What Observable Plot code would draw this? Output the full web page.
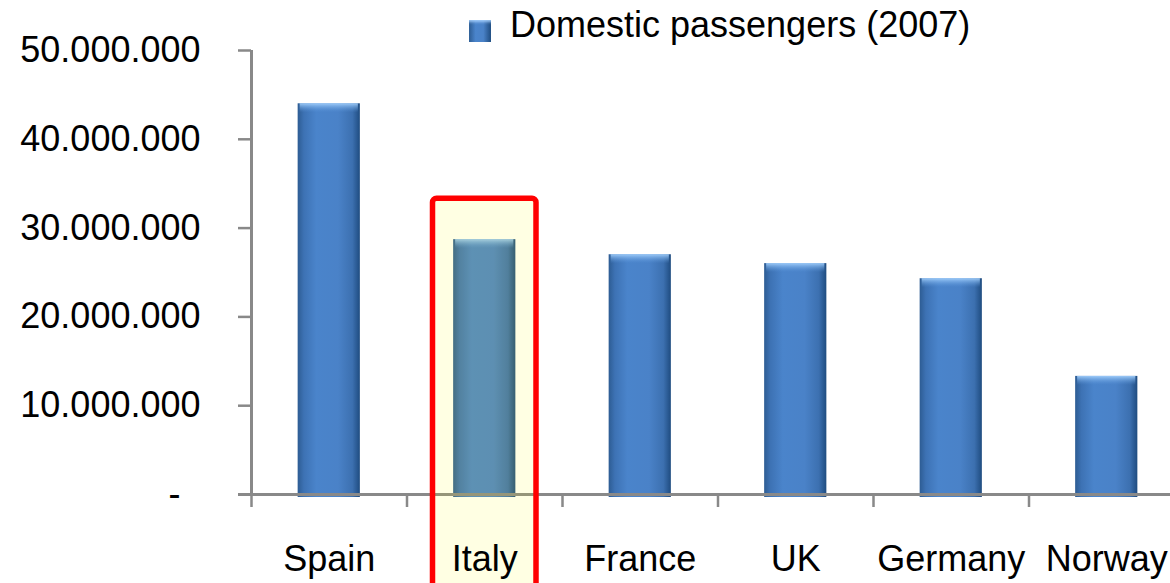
<!DOCTYPE html>
<html>
<head>
<meta charset="utf-8">
<script src="https://cdn.jsdelivr.net/npm/d3@7"></script>
<script src="https://cdn.jsdelivr.net/npm/@observablehq/plot@0.6"></script>
<style>
  html, body { margin: 0; padding: 0; background: #ffffff; }
  #wrap { position: relative; width: 1170px; height: 583px; overflow: hidden; font-family: "Liberation Sans", Arial, sans-serif; }
  #chart { position: absolute; left: 0; top: 0; width: 1184px; height: 583px; }
  #chart svg { max-width: none !important; display: block; }
  #swatch { position: absolute; left: 469px; top: 20px; width: 22px; height: 22px;
    background: linear-gradient(to right, #2d5c93 0%, #4a84cb 30%, #4a82c8 65%, #1f4c80 100%);
    box-shadow: inset 0 4px 3px -2px rgba(170,212,255,0.9); }
  #legendText { position: absolute; left: 510px; top: 7px; font-size: 36px; line-height: 36px; white-space: nowrap; color: #000; }
</style>
</head>
<body>
<div id="wrap">
  <div id="chart"></div>
  <div id="swatch"></div>
  <div id="legendText"></div>
</div>
<script>
// ---- data ----
const categories = ["Spain", "Italy", "France", "UK", "Germany", "Norway"];
const passengers = [44000000, 28700000, 27000000, 26000000, 24300000, 13300000];
const yTicks = [0, 10000000, 20000000, 30000000, 40000000, 50000000];
const highlightCategory = ["Italy"];
const highlightTop = [33300000];
const seriesName = "Domestic passengers (2007)";

const data = categories.map((c, i) => ({category: c, value: passengers[i]}));
const highlight = highlightCategory.map((c, i) => ({category: c, top: highlightTop[i]}));

document.getElementById("legendText").textContent = seriesName;

// ---- layout ----
const W = 1184, H = 583, mL = 251, mR = 0, mT = 50, mB = 89;
const step = (W - mL - mR) / categories.length;
const frameH = H - mT - mB;
const bandW = step * 0.4;
const hlInset = -(103.5 - bandW) / 2;
const fmt = d => d === 0 ? "-\u00a0\u00a0" : d3.format(",")(d).replace(/,/g, ".");

const plot = Plot.plot({
  width: W, height: H,
  marginLeft: mL, marginRight: mR, marginTop: mT, marginBottom: mB,
  style: {fontFamily: '"Liberation Sans", Arial, sans-serif', background: "transparent", color: "#000", maxWidth: "none"},
  x: {domain: categories, paddingInner: 0.6, paddingOuter: 0.3, round: false},
  y: {domain: [0, 50000000]},
  marks: [
    Plot.barY(data, {x: "category", y: "value", fill: "#4a7eb1", insetBottom: -3}),
    Plot.barY(data, {x: "category", y1: "value", y2: "value", fill: "#4a7eb2", insetBottom: -9, insetLeft: 2, insetRight: 2}),
    Plot.ruleX([categories[0]], {x: d => d, dx: -step / 2, stroke: "#898989", strokeWidth: 3}),
    Plot.ruleX(categories, {x: d => d, dx: -step / 2, insetTop: frameH, insetBottom: -13, stroke: "#898989", strokeWidth: 2.5}),
    Plot.ruleY([0], {insetLeft: -13, stroke: "#898989", strokeWidth: 3}),
    Plot.axisY({ticks: yTicks, tickSize: 13, tickPadding: 38, tickFormat: fmt, fontSize: 36, stroke: "#898989", strokeWidth: 2.5, label: null}),
    Plot.barY(highlight, {x: "category", y1: 0, y2: "top", fill: "#ffff00", fillOpacity: 0.11, stroke: "#ff0000", strokeWidth: 5.5,
      insetLeft: hlInset, insetRight: hlInset, insetBottom: -150, rx: 4}),
    Plot.axisX({tickSize: 0, tickPadding: 51, fontSize: 36, label: null})
  ]
});

plot.insertAdjacentHTML("afterbegin", `
<defs>
  <linearGradient id="barGrad" x1="0" x2="1" y1="0" y2="0">
    <stop offset="0" stop-color="#2d5c93"/>
    <stop offset="0.1" stop-color="#3d72b4"/>
    <stop offset="0.3" stop-color="#4a84cb"/>
    <stop offset="0.65" stop-color="#4a82c8"/>
    <stop offset="0.88" stop-color="#3c70b0"/>
    <stop offset="1" stop-color="#1f4c80"/>
  </linearGradient>
  <linearGradient id="bevelGrad" x1="0" x2="0" y1="0" y2="1">
    <stop offset="0" stop-color="#a8d4ff" stop-opacity="0.9"/>
    <stop offset="1" stop-color="#5b97dc" stop-opacity="0"/>
  </linearGradient>
</defs>`);
plot.querySelectorAll('[fill="#4a7eb1"]').forEach(el => el.setAttribute("fill", "url(#barGrad)"));
plot.querySelectorAll('[fill="#4a7eb2"]').forEach(el => el.setAttribute("fill", "url(#bevelGrad)"));

document.getElementById("chart").appendChild(plot);
</script>
</body>
</html>
